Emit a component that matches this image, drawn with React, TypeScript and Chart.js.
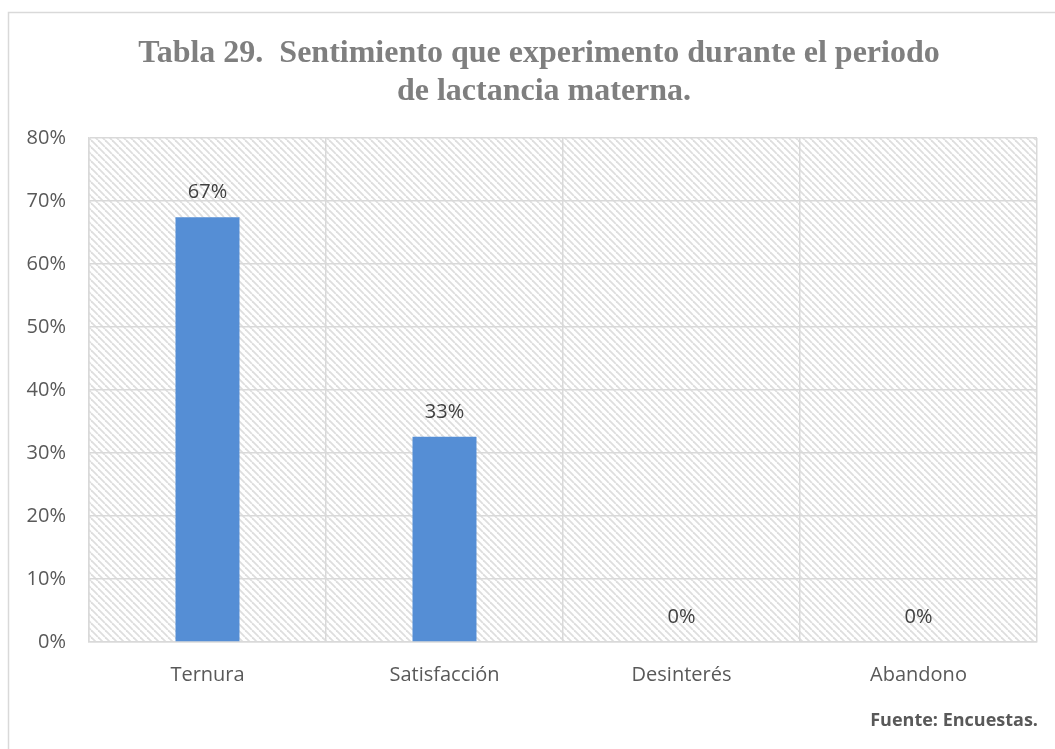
import React, { useEffect, useRef } from "react";
import { Chart, registerables } from "chart.js";

Chart.register(...registerables);

const categories = ["Ternura", "Satisfacción", "Desinterés", "Abandono"];
const values = [67.44, 32.56, 0, 0];
const valueLabels = ["67%", "33%", "0%", "0%"];
const titleLines = ["Tabla 29.  Sentimiento que experimento durante el periodo", "de lactancia materna."];
const sourceText = "Fuente: Encuestas.";

function makePattern(ctx: CanvasRenderingContext2D) {
  const n = 7;
  const c = document.createElement("canvas");
  c.width = n;
  c.height = n;
  const g = c.getContext("2d")!;
  g.fillStyle = "#ffffff";
  g.fillRect(0, 0, n, n);
  g.strokeStyle = "#dedede";
  g.lineWidth = 1.8;
  for (const k of [-n, 0, n]) {
    g.beginPath();
    g.moveTo(k, 0);
    g.lineTo(k + n, n);
    g.stroke();
  }
  return ctx.createPattern(c, "repeat");
}

const decorPlugin = {
  id: "decor",
  beforeDraw(chart: any) {
    const { ctx, chartArea } = chart;
    ctx.save();
    ctx.fillStyle = "#ffffff";
    ctx.fillRect(0, 0, chart.width, chart.height);
    ctx.strokeStyle = "#d9d9d9";
    ctx.lineWidth = 1.5;
    ctx.beginPath();
    ctx.moveTo(8.5, 760);
    ctx.lineTo(8.5, 12.5);
    ctx.lineTo(1060, 12.5);
    ctx.stroke();
    const pat = makePattern(ctx);
    if (pat) {
      ctx.fillStyle = pat;
      ctx.fillRect(chartArea.left, chartArea.top, chartArea.right - chartArea.left, chartArea.bottom - chartArea.top);
    }
    ctx.fillStyle = "#7f7f7f";
    ctx.font = "bold 32px 'Liberation Serif', 'Times New Roman', serif";
    ctx.textAlign = "center";
    ctx.textBaseline = "alphabetic";
    ctx.fillText(titleLines[0], 539, 62);
    ctx.fillText(titleLines[1], 544, 100);
    ctx.fillStyle = "#595959";
    ctx.font = "bold 18px 'Open Sans', sans-serif";
    ctx.textAlign = "right";
    ctx.fillText(sourceText, 1038, 726);
    ctx.restore();
  },
  afterDatasetsDraw(chart: any) {
    const { ctx } = chart;
    const meta = chart.getDatasetMeta(0);
    ctx.save();
    ctx.fillStyle = "#404040";
    ctx.font = "20px 'Open Sans', sans-serif";
    ctx.textAlign = "center";
    ctx.textBaseline = "alphabetic";
    meta.data.forEach((bar: any, i: number) => {
      ctx.fillText(valueLabels[i], bar.x, bar.y - 19);
    });
    ctx.restore();
  },
};

export default function App() {
  const ref = useRef<HTMLCanvasElement>(null);
  useEffect(() => {
    const chart = new Chart(ref.current!, {
      type: "bar",
      data: {
        labels: categories,
        datasets: [
          {
            data: values,
            backgroundColor: "#558ed5",
            borderWidth: 0,
            barPercentage: 0.27,
            categoryPercentage: 1,
          },
        ],
      },
      options: {
        animation: false,
        responsive: false,
        maintainAspectRatio: false,
        layout: { padding: { left: 0, top: 138, right: 18, bottom: 0 } },
        plugins: { legend: { display: false }, tooltip: { enabled: false }, title: { display: false } },
        scales: {
          x: {
            grid: { color: "#d9d9d9", lineWidth: 1.5, drawTicks: false, offset: true },
            border: { color: "#d9d9d9", width: 1.5 },
            ticks: { color: "#595959", font: { family: "'Open Sans', sans-serif", size: 20 }, padding: 21 },
            afterFit: (s: any) => {
              s.height = 107;
            },
          },
          y: {
            min: 0,
            max: 80,
            grid: { color: "#d9d9d9", lineWidth: 1.5, drawTicks: false },
            border: { color: "#d9d9d9", width: 1.5 },
            ticks: {
              stepSize: 10,
              color: "#595959",
              font: { family: "'Open Sans', sans-serif", size: 20 },
              padding: 23,
              callback: (v: any) => v + "%",
            },
            afterFit: (s: any) => {
              s.width = 89;
            },
          },
        },
      },
      plugins: [decorPlugin],
    });
    return () => chart.destroy();
  }, []);
  return (
    <canvas
      ref={ref}
      width={1055}
      height={749}
      style={{ position: "fixed", left: 0, top: 0, width: 1055, height: 749 }}
    />
  );
}
